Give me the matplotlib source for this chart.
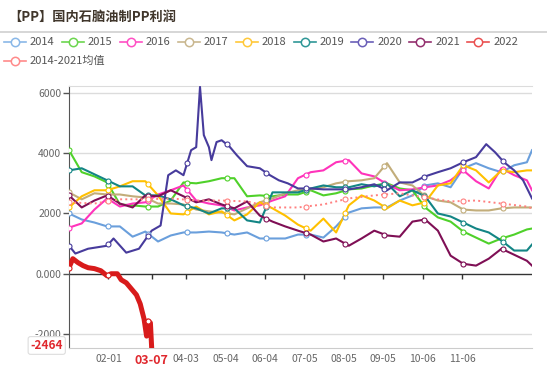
import numpy as np
import matplotlib
matplotlib.use('Agg')
import matplotlib.pyplot as plt
from matplotlib.lines import Line2D

plt.rcParams['font.family'] = ['Noto Sans CJK SC', 'DejaVu Sans']

# day of year (0 = Jan 1)
days = list(range(0, 361, 10)) + [364]

y2014 = [2000, 1800, 1700, 1570, 1570, 1230, 1400, 1070, 1270, 1370, 1370, 1400, 1370, 1300, 1370, 1170, 1170, 1170, 1300,
         1300, 1200, 1570, 2030, 2170, 2200, 2200, 2430, 2600, 2930, 3000, 2870, 3500, 3670, 3500, 3370, 3600, 3700, 4100]
y2015 = [4100, 3370, 3230, 3030, 2300, 2270, 2230, 2230, 2430, 3030, 3000, 3070, 3170, 3170, 2570, 2600, 2570, 2630, 2630,
         2770, 2600, 2670, 2800, 2830, 2930, 3000, 2830, 2770, 2200, 1870, 1730, 1400, 1200, 1000, 1170, 1300, 1470, 1500]
y2016 = [1530, 1670, 2130, 2500, 2230, 2330, 2370, 2630, 2770, 2930, 2430, 2330, 2270, 2100, 2200, 2270, 2430, 2570, 3170,
         3370, 3430, 3700, 3770, 3330, 3230, 2970, 2770, 2800, 2870, 2930, 3100, 3430, 3070, 2830, 3500, 3270, 3100, 2770]
y2017 = [2700, 2470, 2670, 2630, 2630, 2570, 2530, 2330, 2330, 2300, 2130, 2070, 2030, 1970, 2170, 2370, 2500, 2670, 2770,
         2800, 2870, 3000, 3070, 3100, 3170, 3670, 3030, 2930, 2570, 2430, 2370, 2130, 2100, 2100, 2170, 2200, 2200, 2200]
y2018 = [2200, 2570, 2770, 2770, 2900, 3070, 3070, 2600, 2000, 1970, 2230, 1970, 2070, 1770, 1970, 2370, 2170, 1930, 1630,
         1430, 1830, 1370, 2270, 2600, 2430, 2170, 2430, 2270, 2370, 2930, 3000, 3600, 3430, 3030, 3430, 3370, 3430, 3430]
y2019 = [3430, 3500, 3300, 3100, 2900, 2900, 2600, 2600, 2470, 2270, 2170, 2000, 2170, 2170, 1770, 1700, 2700, 2700, 2700,
         2830, 2930, 2870, 2870, 2970, 2900, 3000, 2570, 2770, 2570, 2000, 1900, 1700, 1500, 1370, 1100, 770, 770, 970]
y2021 = [2600, 2200, 2430, 2600, 2330, 2200, 2600, 2570, 2770, 2570, 2370, 2470, 2300, 2170, 2400, 1930, 1730, 1570, 1430,
         1300, 1070, 1170, 930, 1170, 1430, 1270, 1230, 1730, 1800, 1430, 600, 330, 270, 500, 830, 630, 430, 270]

days2020 = [0, 5, 15, 30, 35, 45, 55, 65, 72, 78, 84, 90, 96, 100, 103, 106, 110, 112, 116, 120, 126, 132, 140, 150,
            158, 165, 172, 180, 190, 200, 210, 220, 230, 240, 250, 260, 270, 280, 290, 300, 310, 320, 328, 335, 342,
            350, 357, 364]
y2020 = [930, 670, 830, 930, 1170, 700, 830, 1430, 1600, 3270, 3430, 3270, 4100, 4200, 6200, 4600, 4200, 3770, 4370,
         4430, 4230, 3930, 3570, 3500, 3270, 3100, 3000, 2830, 2830, 2800, 2800, 2800, 2870, 2970, 2770, 3030, 3030,
         3230, 3370, 3500, 3700, 3870, 4300, 4030, 3700, 3430, 3100, 2500]

days2022 = [0, 3, 7, 11, 15, 20, 25, 30, 33, 38, 41, 45, 49, 53, 56, 59, 61, 62, 64, 65]
y2022 = [200, 500, 370, 270, 200, 170, 100, -70, 0, 0, -200, -300, -500, -700, -1000, -1500, -2070, -1570, -1630, -2464]

days_mean = list(range(0, 361, 20)) + [364]
y_mean = [2370, 2330, 2470, 2470, 2500, 2430, 2430, 2400, 2200, 2200, 2300, 2500, 2600, 2670, 2530, 2400, 2430, 2330,
          2230, 2170]

tick_days = [31, 65, 92, 123, 154, 185, 216, 247, 278, 309]
tick_labels = ['02-01', '03-07', '04-03', '05-04', '06-04', '07-05', '08-05', '09-05', '10-06', '11-06']
marker_days = np.arange(0, 365, 31)

series = [
    ('2014', days, y2014, '#6a9fdc', '#8ab8e8'),
    ('2015', days, y2015, '#4fd12a', '#6cd64f'),
    ('2016', days, y2016, '#ff33bb', '#ff4fc4'),
    ('2017', days, y2017, '#c2ad7a', '#c9b78f'),
    ('2018', days, y2018, '#ffc000', '#ffc83a'),
    ('2019', days, y2019, '#138585', '#2f9797'),
    ('2020', days2020, y2020, '#473b9c', '#6a5fb8'),
    ('2021', days, y2021, '#7f0f55', '#93306e'),
    ('2022', days2022, y2022, '#d81b1b', '#ea5050'),
    ('2014-2021均值', days_mean, y_mean, '#ff8080', '#ff8a8a'),
]

fig = plt.figure(figsize=(5.47, 3.71), dpi=100)
ax = fig.add_axes([69 / 547, 23 / 371, 463 / 547, 262 / 371])

for name, xs, ys, col, lcol in series:
    lw, ls = 1.5, '-'
    if name == '2022':
        lw = 3.6
    if name.endswith('均值'):
        ls = ':'
        lw = 1.4
    ax.plot(xs, ys, color=col, lw=lw, ls=ls, zorder=3)
    md = marker_days[marker_days <= max(xs)]
    ax.plot(md, np.interp(md, xs, ys), ls='none', marker='o', ms=3.6, mfc='white', mec=col, mew=0.8, zorder=4)

ax.set_xlim(0, 364)
ax.set_ylim(-2464, 6230)
ax.set_yticks([-2000, 0, 2000, 4000, 6000])
ax.set_yticklabels(['-2000', '0.000', '2000', '4000', '6000'])
for v in [-2000, 2000, 4000, 6000]:
    ax.axhline(v, color='#dcdcdc', lw=1, zorder=1)
ax.axhline(0, color='#333333', lw=1, zorder=2)
ax.vlines(tick_days, -170, 0, color='#333333', lw=1, zorder=2)

ax.set_xticks(tick_days)
ax.set_xticklabels(tick_labels)
ax.tick_params(axis='x', length=0, pad=4, labelsize=7.5, labelcolor='#666666')
ax.tick_params(axis='y', length=4, width=1, color='#555555', pad=1.5, labelsize=7.5, labelcolor='#666666')

# highlighted axis pointer label
lab = ax.get_xticklabels()[1]
lab.set_color('#e0282e')
lab.set_fontweight('bold')
lab.set_fontsize(9)
lab.set_bbox(dict(facecolor='white', edgecolor='none', pad=3.5))
lab.set_zorder(10)

ax.spines['left'].set_color('#555555')
ax.spines['right'].set_visible(False)
ax.spines['top'].set_color('#dcdcdc')
ax.spines['bottom'].set_color('#cccccc')

ax.text(-0.013, -2380, '-2464', transform=ax.get_yaxis_transform(), ha='right', va='center',
        fontsize=8.5, fontweight='bold', color='#e0282e', zorder=10, clip_on=False,
        bbox=dict(boxstyle='round,pad=0.2', facecolor='white', edgecolor='#dddddd', lw=0.8))

# title and separator
fig.text(8 / 547, 1 - 17 / 371, '【PP】国内石脑油制PP利润', fontsize=9.5, fontweight='bold', color='#40362b',
         ha='left', va='center')
fig.add_artist(Line2D([0, 1], [1 - 32 / 371, 1 - 32 / 371], color='#d0d0d0', lw=1.2))

# legend
for i, (name, xs, ys, col, lcol) in enumerate(series):
    if i < 9:
        x0, yc = 4 + i * 57.9, 42
    else:
        x0, yc = 4, 61
    fy = 1 - yc / 371
    fig.add_artist(Line2D([x0 / 547, (x0 + 22) / 547], [fy, fy], color=lcol, lw=1.2))
    fig.add_artist(Line2D([(x0 + 11) / 547], [fy], marker='o', ms=6, mfc='white', mec=lcol, mew=1.1))
    fig.text((x0 + 26) / 547, fy, name, fontsize=8, color='#555555', ha='left', va='center')

fig.savefig('out.png', dpi=100)
